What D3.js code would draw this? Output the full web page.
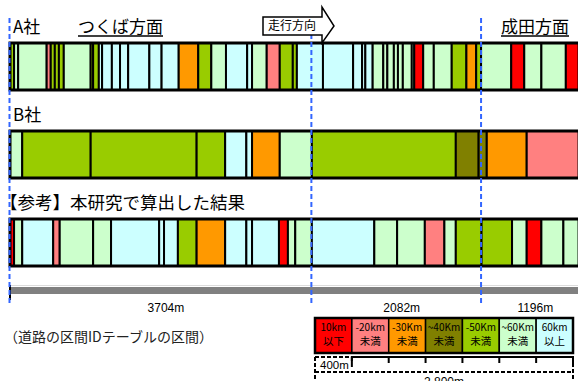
<!DOCTYPE html>
<html>
<head>
<meta charset="utf-8">
<script src="https://cdn.jsdelivr.net/npm/d3@7"></script>
<style>
  body { margin: 0; background: #fff; }
  svg { display: block; font-family: "Noto Sans CJK JP", "Liberation Sans", sans-serif; }
  .num { font-family: "Liberation Sans", Arial, sans-serif; }
</style>
</head>
<body>
<svg id="chart" width="578" height="381"></svg>
<script>
// speed classes (legend order)
const legendTop = ['10km', '-20km', '-30Km', '~40Km', '-50Km', '~60Km', '60km'];
const legendBottom = ['以下', '未満', '未満', '未満', '未満', '未満', '以上'];
const classColors = ['#ff0000', '#ff8080', '#ff9900', '#808000', '#99cc00', '#ccffcc', '#ccffff'];

// road sections (m)
const sectionLengths = [3704, 2082, 1196];
const sectionLabels = ['3704m', '2082m', '1196m'];

const rowTitles = ['A社', 'B社', '【参考】本研究で算出した結果'];

// segment end positions (m from start) and speed class index, per row
const aEnds = [50, 100, 450, 500, 550, 600, 660, 990, 1020, 1090, 1130, 1250, 1350, 1450, 1710, 1860, 2070, 2310, 2470, 2650,
  2910, 2970, 3150, 3310, 3470, 3520, 3840, 4210, 4320, 4360, 4450, 4580, 4630, 4710, 4760, 4820, 4930, 4960, 5070, 5200,
  5420, 5600, 5720, 5780, 6150, 6310, 6520, 6820, 6982];
const aClass = [4, 5, 5, 1, 4, 4, 4, 5, 4, 4, 6, 6, 6, 6, 6, 6, 6, 2, 4, 5,
  6, 6, 5, 1, 4, 4, 6, 6, 6, 6, 6, 5, 5, 5, 5, 5, 5, 5, 0, 5,
  5, 4, 2, 4, 5, 0, 5, 5, 0];

const bEnds = [150, 990, 2290, 2640, 2900, 2970, 3310, 3704, 5470, 5750, 5850, 6340, 6982];
const bClass = [5, 4, 4, 4, 6, 6, 2, 5, 4, 3, 3, 2, 1];

const cEnds = [50, 150, 530, 610, 1020, 1240, 1830, 1890, 2060, 2290, 2640, 2900, 2970, 3300, 3410, 3500, 3704,
  4470, 4750, 5090, 5330, 5470, 5786, 6160, 6340, 6520, 6790, 6982];
const cClass = [0, 5, 6, 1, 5, 5, 6, 6, 6, 4, 2, 6, 6, 6, 0, 5, 5,
  6, 5, 5, 1, 5, 4, 4, 5, 0, 5, 5];

const legendUnit = 400;   // m per legend box
const legendTotal = 2800;

const svg = d3.select('#chart');
const total = d3.sum(sectionLengths);
const x = d3.scaleLinear().domain([0, total]).range([10, 10 + total * 0.0815]);
const rowY = d3.scalePoint().domain(rowTitles).range([43, 219]);
const stripH = 47;

const rows = [
  { title: rowTitles[0], ends: aEnds, cls: aClass },
  { title: rowTitles[1], ends: bEnds, cls: bClass },
  { title: rowTitles[2], ends: cEnds, cls: cClass }
];

// row titles
svg.selectAll('text.rowtitle')
  .data(rowTitles)
  .enter().append('text')
  .attr('class', 'rowtitle')
  .attr('x', (d, i) => i === 2 ? 0 : 13)
  .attr('y', d => rowY(d) - 10)
  .style('font-size', (d, i) => i === 2 ? '17.5px' : '17px')
  .attr('fill', '#000')
  .text(d => d);

// strips
rows.forEach(r => {
  const segs = r.ends.map((e, i) => ({ start: i ? r.ends[i - 1] : 0, end: e, c: r.cls[i] }));
  const g = svg.append('g');
  g.selectAll('rect')
    .data(segs)
    .enter().append('rect')
    .attr('x', d => x(d.start))
    .attr('y', rowY(r.title))
    .attr('width', d => x(d.end) - x(d.start))
    .attr('height', stripH)
    .attr('fill', d => classColors[d.c])
    .attr('stroke', '#000')
    .attr('stroke-width', 2);
  g.append('rect')
    .attr('x', x(0))
    .attr('y', rowY(r.title))
    .attr('width', x(total) - x(0))
    .attr('height', stripH)
    .attr('fill', 'none')
    .attr('stroke', '#000')
    .attr('stroke-width', 3);
});

// direction labels with underline
[['つくば方面', 78], ['成田方面', 501]].forEach(([t, tx]) => {
  const txt = svg.append('text')
    .attr('x', tx).attr('y', 33)
    .style('font-size', '17px')
    .text(t);
  const w = txt.node().getComputedTextLength();
  svg.append('line')
    .attr('x1', tx).attr('x2', tx + w)
    .attr('y1', 36).attr('y2', 36)
    .attr('stroke', '#000').attr('stroke-width', 1.5);
});

// road bar
svg.append('line')
  .attr('x1', x(0)).attr('x2', x(total))
  .attr('y1', 285.5).attr('y2', 285.5)
  .attr('stroke', '#dcdcdc').attr('stroke-width', 1);
svg.append('rect')
  .attr('x', x(0)).attr('y', 287)
  .attr('width', x(total) - x(0)).attr('height', 7)
  .attr('fill', '#808080');
svg.append('line')
  .attr('x1', x(0)).attr('x2', x(0))
  .attr('y1', 285).attr('y2', 300)
  .attr('stroke', '#000').attr('stroke-width', 2);

// section boundaries
const bounds = [0].concat(Array.from(d3.cumsum(sectionLengths)).slice(0, -1));
svg.selectAll('line.sec')
  .data(bounds)
  .enter().append('line')
  .attr('class', 'sec')
  .attr('x1', d => x(d) - 0.5).attr('x2', d => x(d) - 0.5)
  .attr('y1', 18).attr('y2', 306)
  .attr('stroke', '#3366ff')
  .attr('stroke-width', 2)
  .attr('stroke-dasharray', '5,3');

svg.selectAll('text.seclab')
  .data(sectionLabels)
  .enter().append('text')
  .attr('class', 'seclab num')
  .attr('x', (d, i) => x(bounds[i] + sectionLengths[i] / 2) + 5)
  .attr('y', 312)
  .attr('text-anchor', 'middle')
  .style('font-size', '12px')
  .text(d => d);

// direction arrow
const arrow = [[263, 17], [322, 17], [322, 7], [334, 26], [322, 43], [322, 35], [263, 35]];
svg.append('path')
  .attr('d', d3.line()(arrow) + 'Z')
  .attr('fill', '#fff')
  .attr('stroke', '#000')
  .attr('stroke-width', 1.5);
svg.append('text')
  .attr('x', 292).attr('y', 30)
  .attr('text-anchor', 'middle')
  .style('font-size', '12px')
  .text('走行方向');

// note
svg.append('text')
  .attr('x', 4).attr('y', 342)
  .style('font-size', '14px')
  .attr('fill', '#222')
  .text('（道路の区間IDテーブルの区間）');

// legend
const lx = d3.scaleBand().domain(d3.range(classColors.length)).range([315, 573]);
const lg = svg.append('g');
lg.selectAll('rect')
  .data(classColors)
  .enter().append('rect')
  .attr('x', (d, i) => lx(i))
  .attr('y', 318)
  .attr('width', lx.bandwidth())
  .attr('height', 35)
  .attr('fill', d => d)
  .attr('stroke', '#000')
  .attr('stroke-width', 1.5);
lg.append('rect')
  .attr('x', 315).attr('y', 318)
  .attr('width', 258).attr('height', 35)
  .attr('fill', 'none').attr('stroke', '#000').attr('stroke-width', 2.5);
lg.selectAll('text.l1')
  .data(legendTop)
  .enter().append('text')
  .attr('class', 'l1')
  .attr('x', (d, i) => lx(i) + lx.bandwidth() / 2)
  .attr('y', 331)
  .attr('text-anchor', 'middle')
  .style('font-size', '10px')
  .text(d => d);
lg.selectAll('text.l2')
  .data(legendBottom)
  .enter().append('text')
  .attr('class', 'l2')
  .attr('x', (d, i) => lx(i) + lx.bandwidth() / 2)
  .attr('y', 345)
  .attr('text-anchor', 'middle')
  .style('font-size', '10.5px')
  .text(d => d);

// legend distance scale
const ls = d3.scaleLinear().domain([0, legendTotal]).range([315, 573]);
const ticks = d3.range(legendUnit, legendTotal + 1, legendUnit);
lg.append('line')
  .attr('x1', ls(legendUnit)).attr('x2', ls(legendTotal))
  .attr('y1', 357).attr('y2', 357)
  .attr('stroke', '#000').attr('stroke-width', 2);
lg.selectAll('line.tk')
  .data(ticks)
  .enter().append('line')
  .attr('class', 'tk')
  .attr('x1', d => ls(d)).attr('x2', d => ls(d))
  .attr('y1', 356).attr('y2', 363)
  .attr('stroke', '#000').attr('stroke-width', 2);
const dash = [
  [ls(0), 357, ls(legendUnit), 357],
  [ls(legendUnit), 357, ls(legendUnit), 369],
  [ls(0), 357, ls(0), 381],
  [ls(0), 372, ls(legendTotal), 372],
  [ls(legendTotal), 363, ls(legendTotal), 381]
];
lg.selectAll('line.ds')
  .data(dash)
  .enter().append('line')
  .attr('class', 'ds')
  .attr('x1', d => d[0]).attr('y1', d => d[1])
  .attr('x2', d => d[2]).attr('y2', d => d[3])
  .attr('stroke', '#000').attr('stroke-width', 2)
  .attr('stroke-dasharray', '4,2');
lg.append('text')
  .attr('class', 'num')
  .attr('x', ls(legendUnit / 2) + 1).attr('y', 369)
  .attr('text-anchor', 'middle')
  .style('font-size', '11.5px')
  .text(legendUnit + 'm');
lg.append('text')
  .attr('class', 'num')
  .attr('x', ls(legendTotal / 2)).attr('y', 386)
  .attr('text-anchor', 'middle')
  .style('font-size', '12px')
  .text(d3.format(',')(legendTotal) + 'm');
</script>
</body>
</html>
